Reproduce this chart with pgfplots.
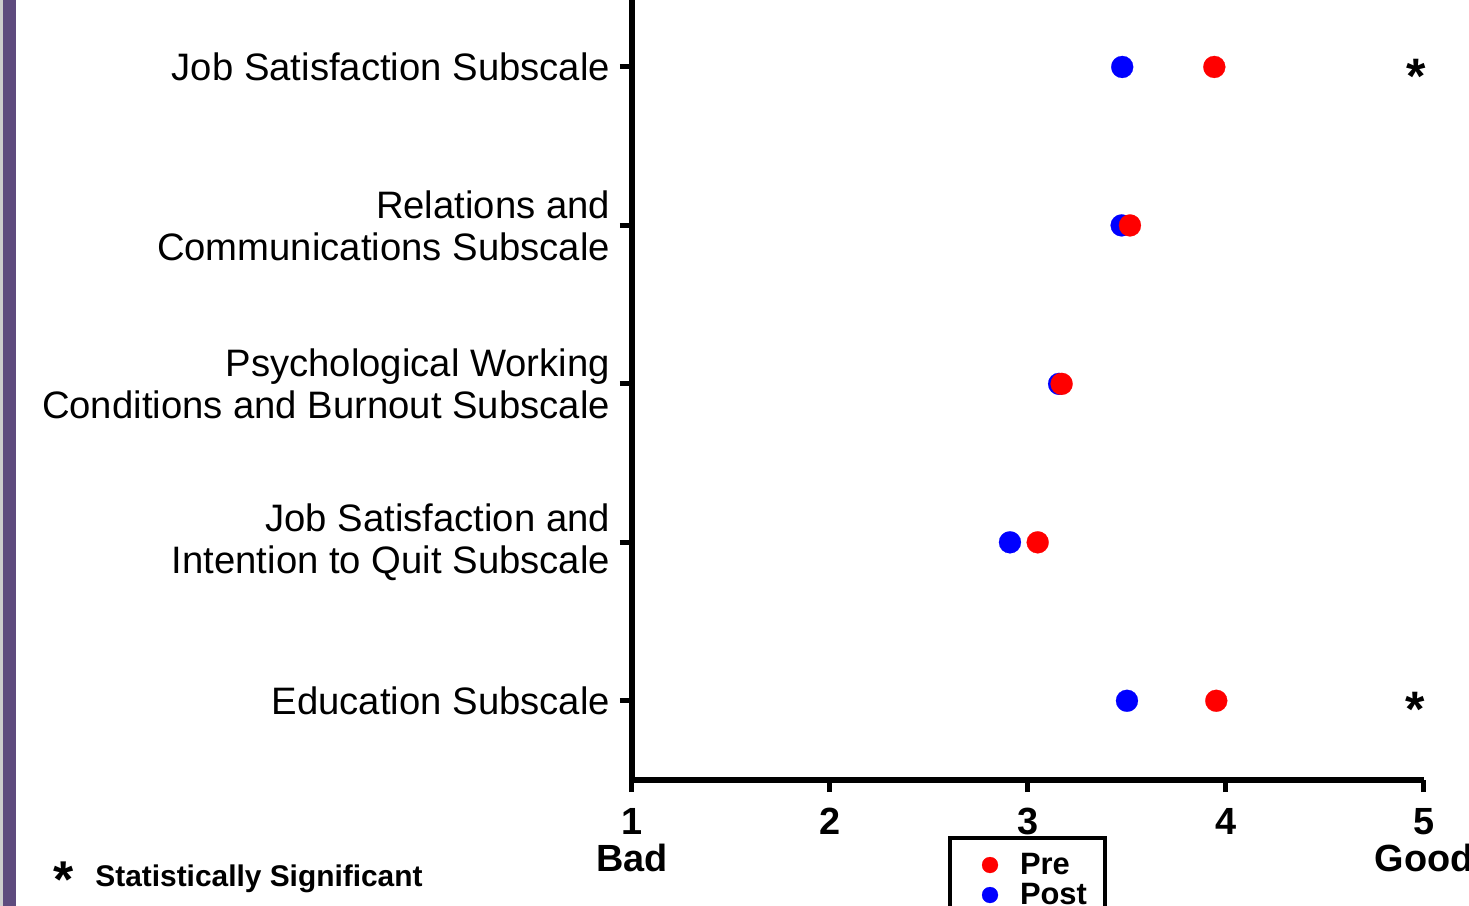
\documentclass[border=0pt]{standalone}
\usepackage{pgfplots}
\pgfplotsset{compat=1.18}
\usepackage{fontspec}
\setmainfont{Liberation Sans}
\definecolor{barpurple}{RGB}{94,75,126}
\definecolor{bargray}{RGB}{205,205,205}
\begin{document}
\begin{tikzpicture}
\begin{axis}[
  at={(0,0)}, anchor=south west,
  scale only axis, width=396bp, height=390bp,
  xmin=1, xmax=5, ymin=0.5, ymax=5.4227,
  axis x line*=bottom, axis y line*=left,
  axis line style={-, line width=2.6bp, black},
  xtick={1,2,3,4,5},
  xticklabels={{1\\Bad},2,3,4,{5\\Good}},
  xticklabel style={align=center, font=\bfseries\fontsize{19}{18.5}\selectfont, inner sep=3bp, yshift=-5bp},
  ytick={1,2,3,4,5},
  yticklabels={Education Subscale, {Job Satisfaction and\\Intention to Quit Subscale}, {Psychological Working\\Conditions and Burnout Subscale}, {Relations and\\Communications Subscale}, Job Satisfaction Subscale},
  yticklabel style={align=right, font=\fontsize{19.2}{21}\selectfont, xshift=-1.5bp},
  tick align=outside, major tick length=6bp,
  tick style={line width=2.5bp, black},
  clip=false,
  legend cell align=left,
  legend style={at={(0.399,-0.0718)}, anchor=north west, draw=black, line width=2bp,
    font=\bfseries\fontsize{15.5}{14}\selectfont, inner xsep=8bp, inner ysep=6bp,
    nodes={inner sep=1bp, text height=11bp, text depth=2bp}},
  legend image code/.code={\path[draw=none, fill=none] (-12bp,-5bp) rectangle (14bp,5bp); \draw[#1] plot coordinates {(0bp,0bp)};},
]
\addlegendimage{only marks, mark=*, mark size=4bp, red, mark options={line width=0.1bp}}
\addlegendentry{Pre}
\addlegendimage{only marks, mark=*, mark size=4bp, blue, mark options={line width=0.1bp}}
\addlegendentry{Post}
% Post (blue)
\addplot[forget plot, only marks, mark=*, mark size=5.5bp, blue, mark options={line width=0.1bp}]
  coordinates {(3.476,5) (3.473,4) (3.157,3) (2.909,2) (3.500,1)};
% Pre (red)
\addplot[forget plot, only marks, mark=*, mark size=5.5bp, red, mark options={line width=0.1bp}]
  coordinates {(3.941,5) (3.515,4) (3.170,3) (3.049,2) (3.951,1)};
% significance stars
\addplot[forget plot, only marks, mark=none, nodes near coords={*}, nodes near coords align=center,
  every node near coord/.append style={font=\bfseries\fontsize{25}{25}\selectfont, anchor=center, yshift=-4.5bp, black, inner sep=0pt}]
  coordinates {(4.963,5) (4.955,1)};
\end{axis}
\fill[bargray] (-316bp,-63bp) rectangle (-314.5bp,390bp);
\fill[barpurple] (-314.5bp,-63bp) rectangle (-308bp,390bp);
\node[anchor=center, font=\bfseries\fontsize{26}{26}\selectfont, inner sep=0pt] at (-284bp,-50bp) {*};
\node[anchor=base west, font=\bfseries\fontsize{15}{15}\selectfont, inner sep=0pt] at (-268.5bp,-53bp) {Statistically Significant};
\pgfresetboundingbox
\path[use as bounding box] (-316bp,-63bp) rectangle (418.5bp,390bp);
\end{tikzpicture}
\end{document}
